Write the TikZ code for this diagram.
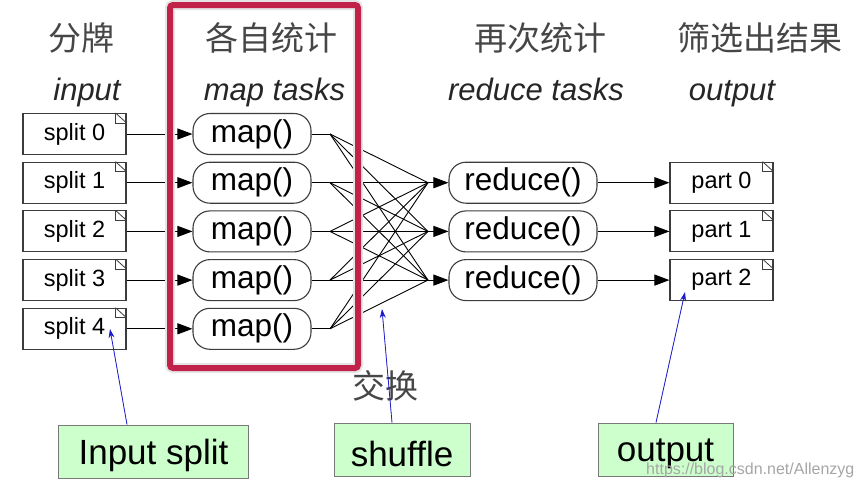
\documentclass[tikz,border=0pt]{standalone}
\usepackage{fontspec}
\setmainfont{Liberation Sans}
\newfontfamily\cjk{Noto Sans CJK SC}
\usetikzlibrary{arrows.meta}
\definecolor{linegray}{RGB}{60,60,60}
\definecolor{headgray}{RGB}{70,70,70}
\definecolor{frame}{RGB}{192,34,74}
\definecolor{notegreen}{RGB}{204,255,204}
\definecolor{noteborder}{RGB}{120,120,120}
\definecolor{pointer}{RGB}{30,30,200}
\tikzset{
  filebox/.style={draw=linegray, line width=1.1pt, minimum width=103pt, minimum height=41pt, inner sep=0pt, font=\fontsize{23.5}{26}\selectfont},
  taskbox/.style={draw=linegray, line width=1.1pt, rounded corners=17pt, minimum height=41pt, inner sep=0pt, font=\fontsize{31.5}{34}\selectfont},
  arr/.style={-{Triangle[length=15pt,width=11pt]}, line width=1pt, black},
  wire/.style={line width=0.9pt, black},
  cjkhead/.style={font=\cjk\fontsize{33}{36}\selectfont, text=headgray, inner sep=0pt},
  ithead/.style={font=\itshape\fontsize{31}{34}\selectfont, text=black!85, inner sep=0pt},
  notebox/.style={draw=noteborder, fill=notegreen, line width=1pt, minimum height=53pt, inner sep=0pt, font=\fontsize{35}{38}\selectfont},
  pointerline/.style={-{Stealth[length=9pt,width=6pt]}, draw=pointer, fill=pointer, line width=0.8pt},
  dogear/.style={line width=0.8pt, linegray}
}
\newcommand{\lowtext}[1]{\raisebox{-4pt}[\height][\depth]{#1}\hspace{14pt}}
\begin{document}
\begin{tikzpicture}[x=1pt,y=-1pt]
\useasboundingbox (0,0) rectangle (861,488);
\fill[white] (0,0) rectangle (861,488);

% headers
\node[cjkhead] (h1) at (81,38) {分牌};
\node[cjkhead] (h2) at (271,38) {各自统计};
\node[cjkhead] (h3) at (540,38) {再次统计};
\node[cjkhead] (h4) at (760,38) {筛选出结果};
\node[ithead, anchor=base] (i1) at (87,100) {input};
\node[ithead, anchor=base] (i2) at (274.5,100) {map tasks};
\node[ithead, anchor=base] (i3) at (536,100) {reduce tasks};
\node[ithead, anchor=base] (i4) at (732,100) {output};

% nodes
\foreach \i/\y in {0/134,1/182.7,2/231.4,3/280.1,4/328.8} {
  \node[filebox] (s\i) at (74.5,\y) {split \i};
  \node[taskbox, minimum width=118pt] (m\i) at (252,\y) {map()};
  \coordinate (f\i) at (330,\y);
}
\foreach \j/\y in {0/182.7,1/231.4,2/280.1} {
  \node[taskbox, minimum width=148pt] (r\j) at (523,\y) {reduce()};
  \node[filebox] (p\j) at (721.5,\y) {part \j};
  \coordinate (c\j) at (428,\y);
}

% dog ears
\foreach \n in {s0,s1,s2,s3,s4,p0,p1,p2} {
  \draw[dogear] ([xshift=-11pt]\n.north east) -- ([xshift=-11pt,yshift=-10pt]\n.north east) -- ([yshift=-10pt]\n.north east);
  \draw[dogear] ([xshift=-11pt]\n.north east) -- ([yshift=-10pt]\n.north east);
}

% connectors
\foreach \i in {0,...,4} {
  \draw[arr] (s\i) -- (m\i);
  \draw[wire] (m\i) -- (f\i);
  \foreach \j in {0,1,2} \draw[wire] (f\i) -- (c\j);
}
\foreach \j in {0,1,2} {
  \draw[arr] (c\j) -- (r\j);
  \draw[arr] (r\j) -- (p\j);
}

% red frame
\draw[line width=10pt, black!10, rounded corners=3pt] (170,5) rectangle (358,368);
\draw[line width=6pt, frame, rounded corners=3pt] (170,5) rectangle (358,368);

\node[cjkhead] (swap) at (385,386) {交换};

% notes
\node[notebox, minimum width=190pt] (g1) at (153.5,451.5) {\lowtext{Input split}};
\node[notebox, minimum width=136pt] (g2) at (402,449.5) {\lowtext{shuffle}};
\node[notebox, minimum width=135pt] (g3) at (665.5,449.5) {\lowtext{output}};

\coordinate (t1) at (110,329);
\coordinate (t2) at (382,309);
\coordinate (t3) at (685,292);
\draw[pointerline] ([xshift=-26.5pt]g1.north) -- (t1);
\draw[pointerline] ([xshift=-10pt]g2.north) -- (t2);
\draw[pointerline] ([xshift=-9.5pt]g3.north) -- (t3);

\node[anchor=base west, inner sep=0pt, text=black!35, font=\fontsize{16}{18}\selectfont] (wm) at (646,474) {https://blog.csdn.net/Allenzyg};
\end{tikzpicture}
\end{document}
